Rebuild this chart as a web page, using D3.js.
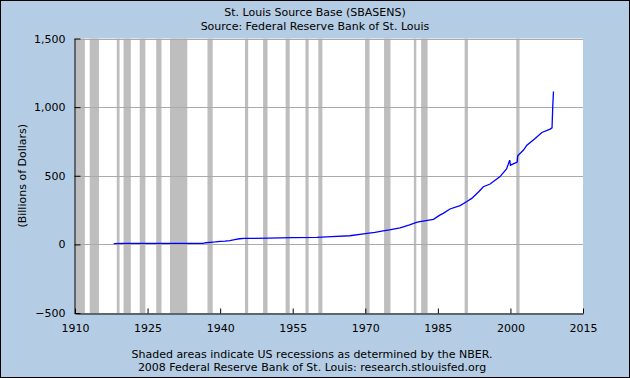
<!DOCTYPE html>
<html>
<head>
<meta charset="utf-8">
<script src="https://cdn.jsdelivr.net/npm/d3@7"></script>
<style>
html,body{margin:0;padding:0;background:#fff;}
svg{display:block;}
text{font-family:"DejaVu Sans",Verdana,sans-serif;font-size:11px;fill:#000;}
</style>
</head>
<body>
<svg id="chart" width="630" height="378"></svg>
<script>
// ---- Data ----
const titleLines = ["St. Louis Source Base (SBASENS)", "Source: Federal Reserve Bank of St. Louis"];
const footerLines = ["Shaded areas indicate US recessions as determined by the NBER.",
                     "2008 Federal Reserve Bank of St. Louis: research.stlouisfed.org"];
const yAxisLabel = "(Billions of Dollars)";
const xTicks = [1910, 1925, 1940, 1955, 1970, 1985, 2000, 2015];
const yTicks = [-500, 0, 500, 1000, 1500];

// NBER recessions (decimal year start, end)
const recessionStart = [1910.04, 1913.04, 1918.63, 1920.04, 1923.38, 1926.79, 1929.63, 1937.38, 1945.13, 1948.88, 1953.54, 1957.63, 1960.29, 1969.96, 1973.88, 1980.04, 1981.54, 1990.54, 2001.21];
const recessionEnd   = [1912.04, 1914.96, 1919.21, 1921.54, 1924.54, 1927.88, 1933.21, 1938.46, 1945.79, 1949.79, 1954.38, 1958.29, 1961.13, 1970.88, 1975.21, 1980.54, 1982.88, 1991.21, 2001.88];

// Source base, billions of dollars
const dates = [1918.0, 1920, 1925, 1930, 1933, 1936.5, 1937, 1938, 1939, 1940, 1941, 1942, 1943, 1944, 1945, 1946,
  1950, 1955, 1960, 1963, 1966.8, 1970, 1972, 1973.7, 1975, 1977.2, 1979, 1980.6, 1981.3, 1984.1, 1985.4, 1986.1,
  1987.5, 1989.6, 1991, 1992, 1993.5, 1994.4, 1995.8, 1997.8, 1999.2, 1999.85, 2000.0, 2001.4, 2001.5, 2002.7,
  2003.4, 2005.1, 2006.5, 2008.2, 2008.6, 2008.75, 2008.9];
const values = [6, 7, 7, 7, 7, 8, 12, 15, 18, 22, 24, 28, 35, 41, 43, 44,
  45, 49, 51, 56, 63, 78, 88, 99, 105, 121, 140, 160, 165, 182, 213, 226,
  258, 283, 312, 335, 385, 420, 440, 492, 550, 614, 577, 600, 645, 687,
  723, 772, 815, 840, 849, 1007, 1114];

// ---- Drawing ----
const svg = d3.select("#chart");
const W = 630, H = 378;
const plot = {left: 75, right: 583, top: 38.5, bottom: 313};

svg.append("rect").attr("x", 0).attr("y", 0).attr("width", W).attr("height", H)
  .attr("fill", "#b4cde4");

const x = d3.scaleLinear().domain([1910, 2015]).range([plot.left, plot.right]);
const y = d3.scaleLinear().domain([-500, 1500]).range([plot.bottom, plot.top]);

svg.append("rect").attr("x", plot.left).attr("y", plot.top)
  .attr("width", plot.right - plot.left).attr("height", plot.bottom - plot.top)
  .attr("fill", "#fff");

// recession bands
svg.append("g").selectAll("rect").data(recessionStart).join("rect")
  .attr("x", (d) => x(d))
  .attr("width", (d, i) => Math.max(1, x(recessionEnd[i]) - x(d)))
  .attr("y", plot.top).attr("height", plot.bottom - plot.top)
  .attr("fill", "#bebebe");

// gridlines
svg.append("g").selectAll("line").data(yTicks.filter(t => t > -500)).join("line")
  .attr("x1", plot.left).attr("x2", plot.right)
  .attr("y1", d => Math.round(y(d)) + 0.5).attr("y2", d => Math.round(y(d)) + 0.5)
  .attr("stroke", "#aaaaaa").attr("stroke-width", 1);

// line
const pts = dates.map((d, i) => [d, values[i]]);
svg.append("path").datum(pts)
  .attr("d", d3.line().x(d => x(d[0])).y(d => y(d[1])))
  .attr("fill", "none").attr("stroke", "#0000ff").attr("stroke-width", 1.3);

// axes
const yAxis = d3.axisLeft(y).tickValues(yTicks).tickFormat(d3.format(",")).tickSizeInner(-6).tickSizeOuter(0).tickPadding(9);
const gy = svg.append("g").attr("transform", `translate(${plot.left - 0.5},0)`).call(yAxis);
gy.select(".domain").attr("stroke", "#000");
gy.selectAll(".tick line").attr("stroke", "#000");
gy.selectAll("text").style("font-family", "DejaVu Sans").style("font-size", "11px").attr("fill", "#000");

const xAxis = d3.axisBottom(x).tickValues(xTicks).tickFormat(d3.format("d")).tickSizeInner(-5).tickSizeOuter(0).tickPadding(11);
const gx = svg.append("g").attr("transform", `translate(0,${plot.bottom + 0.5})`).call(xAxis);
gx.select(".domain").attr("stroke", "#000");
gx.selectAll(".tick line").attr("stroke", "#000");
gx.selectAll("text").style("font-family", "DejaVu Sans").style("font-size", "11px").attr("fill", "#000");

// titles
svg.selectAll("text.title").data(titleLines).join("text").attr("class", "title")
  .attr("x", W / 2).attr("y", (d, i) => 16 + i * 14).attr("text-anchor", "middle").text(d => d);

svg.selectAll("text.footer").data(footerLines).join("text").attr("class", "footer")
  .attr("x", W / 2 - 3).attr("y", (d, i) => 358 + i * 13).attr("text-anchor", "middle").text(d => d);

svg.append("text").attr("transform", `translate(26,${(plot.top + plot.bottom) / 2}) rotate(-90)`)
  .attr("text-anchor", "middle").text(yAxisLabel);

// outer border
svg.append("rect").attr("x", 0.5).attr("y", 0.5).attr("width", W - 1).attr("height", H - 1)
  .attr("fill", "none").attr("stroke", "#000").attr("stroke-width", 1);
</script>
</body>
</html>
